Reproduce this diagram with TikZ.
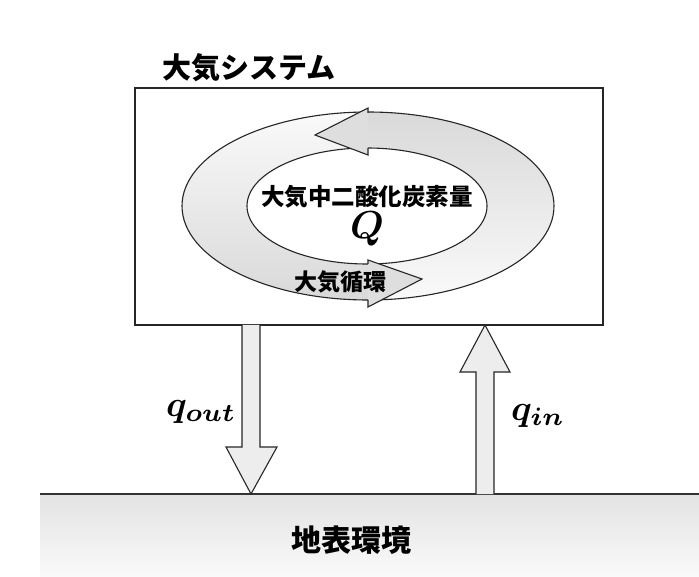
\documentclass[tikz,border=0pt]{standalone}
\usepackage{fontspec}
\usepackage{graphicx}
\usepackage{bm}
\newfontfamily\cjk{Noto Sans CJK JP}
\begin{document}
\begin{tikzpicture}[x=1pt,y=-1pt,
  outl/.style={draw=black!85,line width=1.1pt,line join=miter},
  headfill/.style={fill=black!13},
  lbl/.style={inner sep=0pt,font=\cjk\bfseries}]
\useasboundingbox (0,0) rectangle (699,577);
\fill[white] (0,0) rectangle (699,577);
% ground
\shade[top color=black!11,bottom color=black!2] (40,495) rectangle (699,577);
\draw[line width=1.5pt,black!80] (40,494) coordinate (gl) -- (699,494) coordinate (gr);
\node[lbl,font=\cjk\bfseries\fontsize{30}{30}\selectfont] (ground) at (351,540) {地表環境};
% system box
\node[lbl,anchor=west,font=\cjk\bfseries\fontsize{29}{29}\selectfont] (title) at (162,68) {大気システム};
\draw[outl] (135,88) rectangle (603,325);
% ring (two shaded halves)
\begin{scope}[even odd rule]
  \clip (368,206) ellipse [x radius=186,y radius=94] (367,206) ellipse [x radius=120,y radius=58];
  \shade[top color=black!2,bottom color=black!15] (180,110) rectangle (368,302);
  \shade[top color=black!15,bottom color=black!2] (368,110) rectangle (556,302);
\end{scope}
\draw[outl] (368,206) ellipse [x radius=186,y radius=94];
\draw[outl] (367,206) ellipse [x radius=120,y radius=58];
% top arrowhead (pointing left)
\fill[headfill] (368,108) -- (315,135) -- (368,155) -- cycle;
\draw[outl] (368,113) -- (368,108) -- (315,135) -- (368,155) -- (368,148);
% bottom arrowhead (pointing right)
\fill[headfill] (368,260) -- (422,279) -- (368,307) -- cycle;
\draw[outl] (368,264) -- (368,260) -- (422,279) -- (368,307) -- (368,300);
\node[lbl,font=\cjk\bfseries\fontsize{23.5}{23.5}\selectfont] (co2) at (367,197) {大気中二酸化炭素量};
\node[inner sep=0pt] (Q) at (367,229) {\scalebox{3.9}{$\bm{Q}$}};
\node[lbl,font=\cjk\bfseries\fontsize{23}{23}\selectfont] (circ) at (340,282) {大気循環};
% q_out arrow
\filldraw[outl,fill=black!7] (242,325) -- (242,447) -- (226,447) -- (251,494) -- (277,447) -- (260,447) -- (260,325);
% q_in arrow
\filldraw[outl,fill=black!7] (476,494) -- (476,372) -- (460,372) -- (485,325) -- (510,372) -- (494,372) -- (494,494);
\node[inner sep=0pt,anchor=west] (qout) at (166,412) {\scalebox{3.6}{$\bm{q_{out}}$}};
\node[inner sep=0pt,anchor=west] (qin) at (511,416) {\scalebox{3.6}{$\bm{q_{in}}$}};
\end{tikzpicture}
\end{document}
